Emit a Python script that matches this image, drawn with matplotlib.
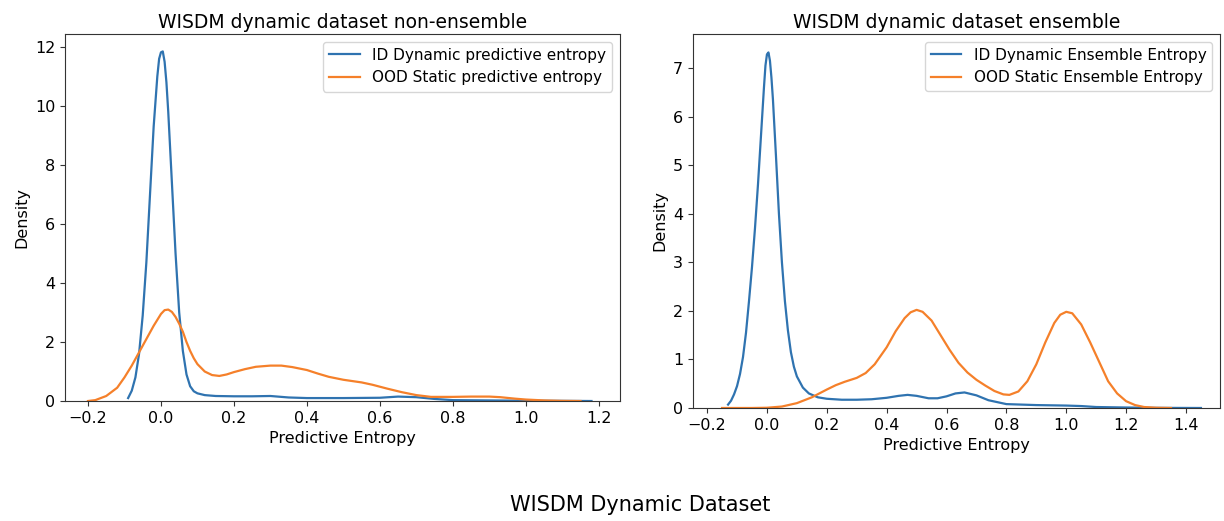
import matplotlib
matplotlib.use("Agg")
import matplotlib.pyplot as plt

# non-ensemble densities
ne_id_x = [-0.09, -0.08, -0.07, -0.06, -0.05, -0.04, -0.03, -0.02, -0.01, -0.005,
           0.0, 0.005, 0.01, 0.015, 0.02, 0.03, 0.04, 0.05, 0.06, 0.07, 0.08,
           0.09, 0.10, 0.12, 0.15, 0.2, 0.25, 0.3, 0.35, 0.4, 0.5, 0.6, 0.65,
           0.7, 0.75, 0.8, 0.9, 1.0, 1.1, 1.18]
ne_id_y = [0.1, 0.35, 0.8, 1.6, 2.9, 4.7, 7.0, 9.3, 11.0, 11.6,
           11.82, 11.85, 11.5, 10.8, 9.8, 7.4, 5.0, 3.0, 1.7, 0.9, 0.5,
           0.33, 0.26, 0.2, 0.17, 0.16, 0.16, 0.17, 0.12, 0.1, 0.1, 0.11, 0.15,
           0.13, 0.07, 0.03, 0.02, 0.01, 0.005, 0.0]

ne_ood_x = [-0.2, -0.18, -0.15, -0.12, -0.1, -0.08, -0.06, -0.04, -0.02, 0.0,
            0.01, 0.02, 0.03, 0.04, 0.05, 0.06, 0.07, 0.08, 0.09, 0.1, 0.12,
            0.14, 0.16, 0.18, 0.2, 0.23, 0.26, 0.3, 0.33, 0.36, 0.4, 0.43,
            0.46, 0.5, 0.55, 0.58, 0.62, 0.66, 0.7, 0.74, 0.8, 0.85, 0.9,
            0.93, 0.97, 1.0, 1.05, 1.1, 1.15]
ne_ood_y = [0.0, 0.03, 0.17, 0.45, 0.8, 1.2, 1.65, 2.1, 2.55, 2.95,
            3.08, 3.1, 3.02, 2.85, 2.62, 2.35, 2.0, 1.7, 1.45, 1.25, 1.0,
            0.88, 0.85, 0.9, 0.98, 1.08, 1.16, 1.2, 1.2, 1.15, 1.05, 0.93,
            0.82, 0.72, 0.63, 0.55, 0.42, 0.3, 0.2, 0.14, 0.14, 0.15, 0.15,
            0.13, 0.08, 0.05, 0.02, 0.005, 0.0]

# ensemble densities
en_id_x = [-0.13, -0.12, -0.11, -0.1, -0.09, -0.08, -0.07, -0.06, -0.05, -0.04,
           -0.03, -0.02, -0.01, -0.005, 0.0, 0.005, 0.01, 0.015, 0.02, 0.03,
           0.04, 0.05, 0.06, 0.07, 0.08, 0.09, 0.1, 0.12, 0.14, 0.17, 0.2,
           0.25, 0.3, 0.35, 0.4, 0.44, 0.47, 0.5, 0.54, 0.57, 0.6, 0.63, 0.66,
           0.7, 0.74, 0.8, 0.9, 1.0, 1.05, 1.1, 1.2, 1.3, 1.45]
en_id_y = [0.07, 0.15, 0.28, 0.45, 0.7, 1.05, 1.55, 2.2, 2.9, 3.7,
           4.6, 5.6, 6.6, 7.05, 7.28, 7.32, 7.15, 6.8, 6.35, 5.2,
           4.0, 3.0, 2.2, 1.6, 1.15, 0.85, 0.65, 0.42, 0.3, 0.22, 0.19,
           0.17, 0.17, 0.18, 0.21, 0.25, 0.27, 0.25, 0.2, 0.2, 0.24, 0.3, 0.32,
           0.26, 0.16, 0.08, 0.06, 0.05, 0.04, 0.02, 0.01, 0.003, 0.0]

en_ood_x = [-0.15, -0.05, 0.0, 0.05, 0.1, 0.15, 0.2, 0.23, 0.26, 0.3, 0.33,
            0.36, 0.4, 0.43, 0.46, 0.48, 0.5, 0.52, 0.55, 0.58, 0.61, 0.64,
            0.67, 0.7, 0.73, 0.76, 0.79, 0.81, 0.84, 0.87, 0.9, 0.93, 0.96,
            0.98, 1.0, 1.02, 1.05, 1.08, 1.11, 1.14, 1.17, 1.2, 1.23, 1.26,
            1.3, 1.35]
en_ood_y = [0.0, 0.0, 0.005, 0.03, 0.1, 0.22, 0.38, 0.47, 0.54, 0.62, 0.72,
            0.9, 1.25, 1.58, 1.85, 1.97, 2.02, 1.98, 1.8, 1.5, 1.2, 0.93,
            0.73, 0.58, 0.46, 0.35, 0.28, 0.27, 0.34, 0.55, 0.9, 1.35, 1.75,
            1.92, 1.98, 1.95, 1.72, 1.35, 0.95, 0.55, 0.3, 0.14, 0.06, 0.02,
            0.005, 0.0]

blue = '#2f73b0'
orange = '#f5802a'

fig = plt.figure(figsize=(12.24, 5.21), dpi=100)
ax1 = fig.add_axes([0.0531, 0.2303, 0.4534, 0.7044])
ax2 = fig.add_axes([0.5662, 0.2169, 0.4306, 0.7179])

ax1.plot(ne_id_x, ne_id_y, color=blue, lw=1.6, label='ID Dynamic predictive entropy')
ax1.plot(ne_ood_x, ne_ood_y, color=orange, lw=1.6, label='OOD Static predictive entropy')
ax1.set_xlim(-0.263, 1.258)
ax1.set_ylim(0, 12.44)
ax1.set_xticks([-0.2, 0.0, 0.2, 0.4, 0.6, 0.8, 1.0, 1.2])
ax1.set_title('WISDM dynamic dataset non-ensemble', fontsize=13.5, pad=4)

ax2.plot(en_id_x, en_id_y, color=blue, lw=1.6, label='ID Dynamic Ensemble Entropy')
ax2.plot(en_ood_x, en_ood_y, color=orange, lw=1.6, label='OOD Static Ensemble Entropy')
ax2.set_xlim(-0.247, 1.514)
ax2.set_ylim(0, 7.7)
ax2.set_xticks([-0.2, 0.0, 0.2, 0.4, 0.6, 0.8, 1.0, 1.2, 1.4])
ax2.set_title('WISDM dynamic dataset ensemble', fontsize=13.5, pad=4)

for ax in (ax1, ax2):
    ax.set_xlabel('Predictive Entropy', fontsize=11.5)
    ax.set_ylabel('Density', fontsize=11.5)
    ax.tick_params(labelsize=11.5, color='#333333')
    for s in ax.spines.values():
        s.set_color('#333333')
    ax.legend(loc='upper right', fontsize=11)

fig.text(0.523, 0.03, 'WISDM Dynamic Dataset', ha='center', va='center', fontsize=15)

fig.savefig('out.png', dpi=100)
